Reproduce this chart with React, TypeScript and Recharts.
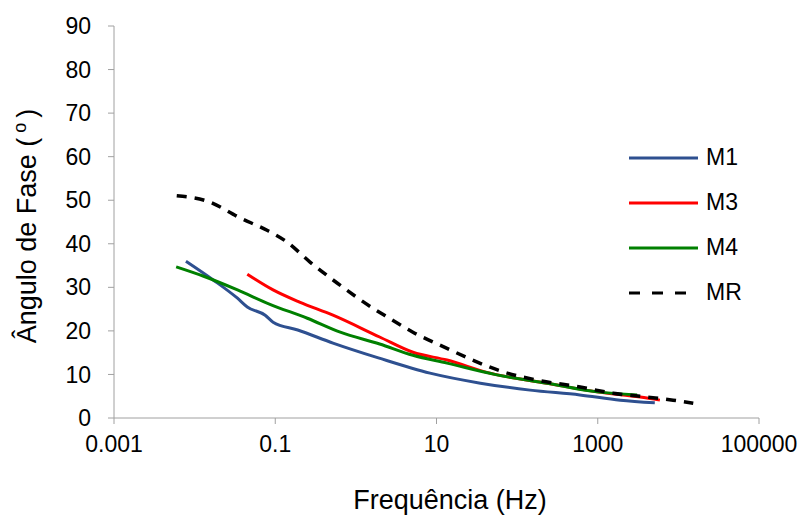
import React from "react"
import { LineChart, Line, XAxis, YAxis, Label } from "recharts"

// frequencies (Hz) and phase angles (degrees)
const m1Freq = [0.0078, 0.017, 0.034, 0.045, 0.075, 0.094, 0.19, 0.52, 1.9, 8.3, 35, 145, 600, 1900, 5100]
const m1Phase = [36, 31.7, 27.5, 25.5, 23.6, 22, 20.2, 17.2, 13.8, 10.3, 8, 6.4, 5.3, 4.1, 3.5]

const m3Freq = [0.045, 0.094, 0.2, 0.52, 1.97, 5.1, 13.5, 46, 235, 980, 3360, 5900]
const m3Phase = [33, 29.4, 26.6, 23.6, 18.6, 15.1, 13.3, 10.3, 8, 6, 4.8, 4.1]

const m4Freq = [0.0059, 0.0127, 0.034, 0.086, 0.25, 0.64, 1.97, 5.1, 13.5, 56, 235, 980, 3080]
const m4Phase = [34.7, 32.6, 29.4, 26.1, 22.9, 19.7, 17, 14.4, 12.6, 9.9, 8, 6, 5.3]

const mrFreq = [0.006, 0.0143, 0.037, 0.079, 0.14, 0.27, 0.585, 1.63, 2.44, 5.1, 13.5, 28, 67, 177, 605, 1550, 4100, 8600, 15300]
const mrPhase = [51, 49.8, 45.9, 43.1, 40.4, 35.8, 31, 25.2, 23.2, 19.7, 16, 13.3, 10.6, 8.7, 7.1, 5.7, 4.8, 4.1, 3.4]

const xTicks = [0.001, 0.1, 10, 1000, 100000]
const yTicks = [0, 10, 20, 30, 40, 50, 60, 70, 80, 90]

const toPoints = (f: number[], p: number[]) => f.map((x, i) => ({ f: x, phase: p[i] }))

const series = [
  { name: "M1", color: "#2E5090", dash: undefined, data: toPoints(m1Freq, m1Phase) },
  { name: "M3", color: "#FF0000", dash: undefined, data: toPoints(m3Freq, m3Phase) },
  { name: "M4", color: "#008000", dash: undefined, data: toPoints(m4Freq, m4Phase) },
  { name: "MR", color: "#000000", dash: "10 8", data: toPoints(mrFreq, mrPhase) },
]

const font = "'Liberation Sans', Arial, sans-serif"
const axisGray = "#A0A0A0"

// legend drawn by hand so it doesn't eat into the plot width
function LegendBox() {
  return (
    <div style={{ position: "absolute", left: 629, top: 135, fontFamily: font, fontSize: 23, color: "#000" }}>
      {series.map((s) => (
        <div key={s.name} style={{ display: "flex", alignItems: "center", height: 45 }}>
          <svg width={77} height={10}>
            <line
              x1={0}
              y1={5}
              x2={s.dash ? 57 : 69}
              y2={5}
              stroke={s.color}
              strokeWidth={3}
              strokeDasharray={s.dash ? "11 12" : undefined}
            />
          </svg>
          <span>{s.name}</span>
        </div>
      ))}
    </div>
  )
}

export default function App() {
  return (
    <div style={{ position: "absolute", left: 0, top: 0, width: 805, height: 515, background: "#fff" }}>
      <LineChart width={805} height={515} margin={{ top: 26, right: 46, bottom: 0, left: 0 }}>
        <XAxis
          dataKey="f"
          type="number"
          scale="log"
          domain={[0.001, 100000]}
          ticks={xTicks}
          allowDataOverflow
          tickFormatter={(v: number) => String(v)}
          height={97}
          stroke={axisGray}
          tickSize={6}
          tickMargin={12}
          tick={{ fill: "#000", fontSize: 23, fontFamily: font }}
        >
          <Label
            content={() => (
              <text x={450} y={509} textAnchor="middle" fontSize={27} fontFamily={font} fill="#000">
                Frequência (Hz)
              </text>
            )}
          />
        </XAxis>
        <YAxis
          type="number"
          domain={[0, 90]}
          ticks={yTicks}
          width={114}
          stroke={axisGray}
          tickSize={6}
          tickMargin={17}
          tick={{ fill: "#000", fontSize: 23, fontFamily: font }}
        >
          <Label
            content={() => (
              <text
                x={0}
                y={0}
                transform="translate(36 226) rotate(-90)"
                textAnchor="middle"
                fontSize={27}
                fontFamily={font}
                fill="#000"
              >
                Ângulo de Fase (
                <tspan fontSize={18} dy={-10}> o </tspan>
                <tspan dy={10}>)</tspan>
              </text>
            )}
          />
        </YAxis>
        {series.map((s) => (
          <Line
            key={s.name}
            data={s.data}
            dataKey="phase"
            name={s.name}
            type="monotone"
            stroke={s.color}
            strokeWidth={s.dash ? 3.5 : 3}
            strokeDasharray={s.dash}
            dot={false}
            isAnimationActive={false}
          />
        ))}
      </LineChart>
      <LegendBox />
    </div>
  )
}
